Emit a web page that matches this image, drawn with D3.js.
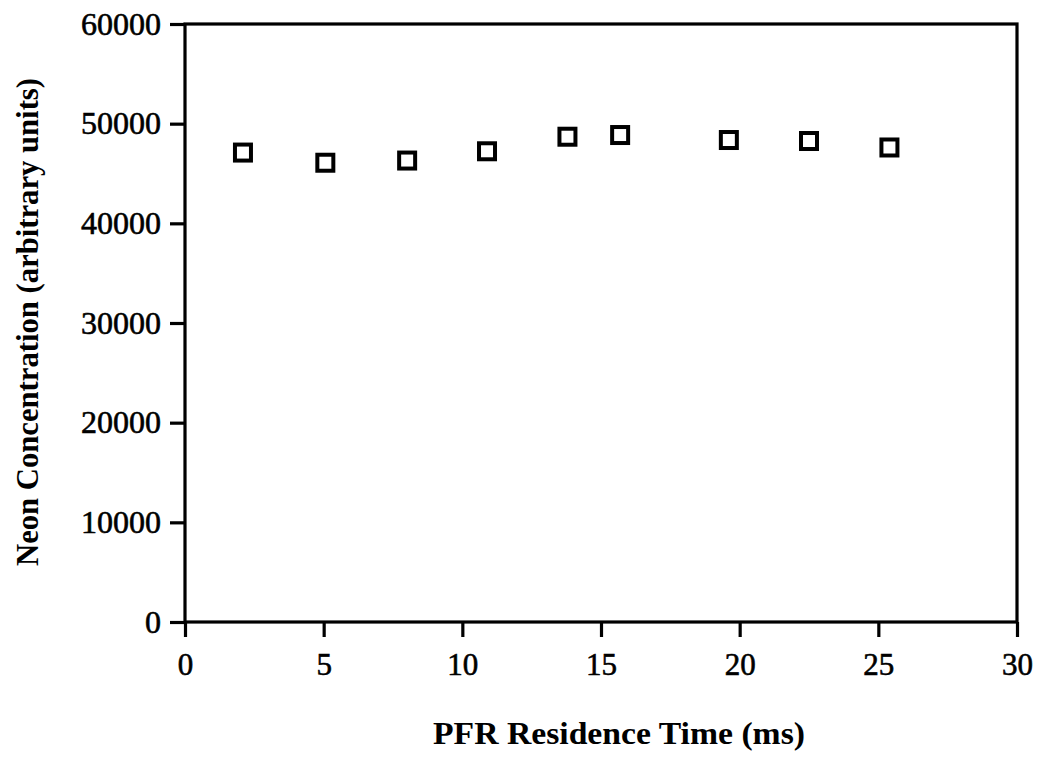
<!DOCTYPE html>
<html>
<head>
<meta charset="utf-8">
<script src="https://cdn.jsdelivr.net/npm/d3@7"></script>
<style>
  html, body { margin: 0; padding: 0; background: #fff; }
  svg { display: block; }
</style>
</head>
<body>
<svg id="chart" width="1040" height="761"></svg>
<script>
// Data
const residenceTime = [2.09, 5.06, 8.01, 10.89, 13.79, 15.69, 19.61, 22.50, 25.40];
const neonConc = [47100, 46080, 46300, 47230, 48690, 48860, 48360, 48260, 47610];
const xTicks = [0, 5, 10, 15, 20, 25, 30];
const yTicks = [0, 10000, 20000, 30000, 40000, 50000, 60000];
const xTitle = "PFR Residence Time (ms)";
const yTitle = "Neon Concentration (arbitrary units)";

const svg = d3.select("#chart");
const L = 185, R = 1017, T = 24, B = 622;

const x = d3.scaleLinear().domain([0, 30]).range([L, R]);
const y = d3.scaleLinear().domain([0, 60000]).range([B, T]);

const font = "'Liberation Serif', 'Times New Roman', serif";

// frame
svg.append("rect")
  .attr("x", L).attr("y", T).attr("width", R - L).attr("height", B - T)
  .attr("fill", "none").attr("stroke", "#000").attr("stroke-width", 3.2);

// x axis
const xAxis = svg.append("g")
  .attr("transform", `translate(0,${B})`)
  .call(d3.axisBottom(x).tickValues(xTicks).tickFormat(d3.format("d"))
        .tickSize(15).tickPadding(16));
xAxis.select(".domain").remove();
xAxis.selectAll("line").attr("stroke", "#000").attr("stroke-width", 3.2);
xAxis.selectAll("text").attr("font-family", font).attr("font-size", 31).attr("fill", "#000")
  .attr("stroke", "#000").attr("stroke-width", 0.6);

// y axis
const yAxis = svg.append("g")
  .attr("transform", `translate(${L},0)`)
  .call(d3.axisLeft(y).tickValues(yTicks).tickFormat(d3.format("d"))
        .tickSize(15).tickPadding(9));
yAxis.select(".domain").remove();
yAxis.selectAll("line").attr("stroke", "#000").attr("stroke-width", 3.2);
yAxis.selectAll("text").attr("font-family", font).attr("font-size", 32).attr("fill", "#000")
  .attr("stroke", "#000").attr("stroke-width", 0.6);

// points
const s = 16;
svg.append("g").selectAll("rect")
  .data(residenceTime.map((t, i) => [t, neonConc[i]]))
  .join("rect")
  .attr("x", d => x(d[0]) - s / 2)
  .attr("y", d => y(d[1]) - s / 2)
  .attr("width", s).attr("height", s)
  .attr("fill", "none").attr("stroke", "#000").attr("stroke-width", 4);

// titles
svg.append("text")
  .attr("x", 619).attr("y", 744)
  .attr("text-anchor", "middle")
  .attr("font-family", font).attr("font-weight", "bold").attr("font-size", 32)
  .attr("textLength", 372).attr("lengthAdjust", "spacingAndGlyphs")
  .attr("fill", "#000")
  .text(xTitle);

svg.append("text")
  .attr("transform", "translate(38,322) rotate(-90)")
  .attr("text-anchor", "middle")
  .attr("font-family", font).attr("font-weight", "bold").attr("font-size", 31)
  .attr("textLength", 488).attr("lengthAdjust", "spacingAndGlyphs")
  .attr("fill", "#000")
  .text(yTitle);
</script>
</body>
</html>
